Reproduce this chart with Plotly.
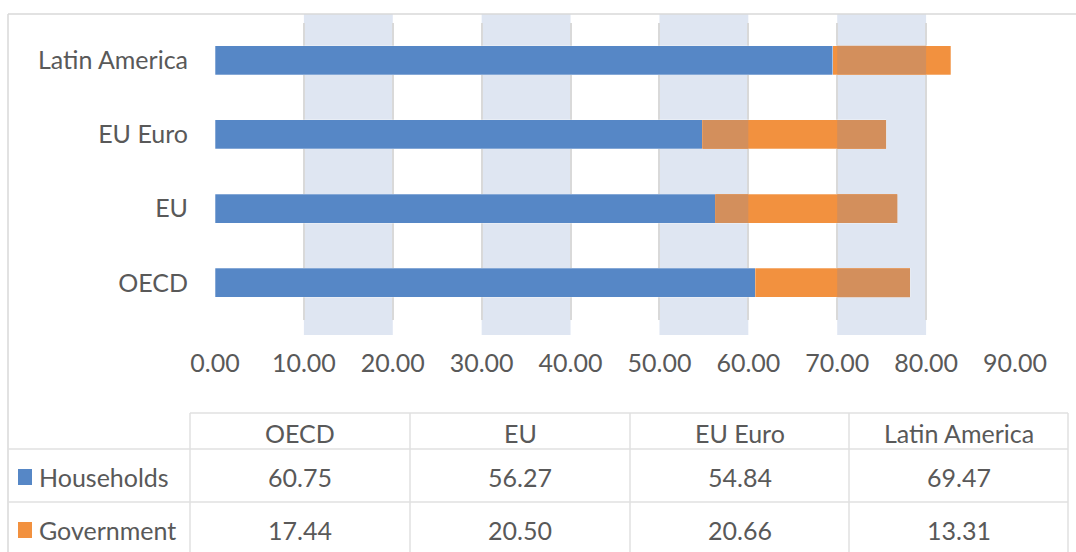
import plotly.graph_objects as go

# ---------------- data ----------------
categories = ["OECD", "EU", "EU Euro", "Latin America"]
households = [60.75, 56.27, 54.84, 69.47]
government = [17.44, 20.50, 20.66, 13.31]
series_names = ["Households", "Government"]
x_ticks = [0, 10, 20, 30, 40, 50, 60, 70, 80, 90]

# ---------------- style ----------------
W, H = 1076, 552
L_PX, R_PX, T_PX, B_PX = 215, 1015, 23, 320   # plot area in pixels
BLUE = "#5687C6"
ORANGE = "#F2913F"
OVERLAP = "#D38F5C"
BAND = "#DFE6F2"
GRID = "#D9D9D9"
TXT = "#595959"
FONT = "Lato, Carlito, Calibri, 'Liberation Sans', sans-serif"
FS = 25
BAR_W = 0.39


def px(x):
    return (x - L_PX) / (R_PX - L_PX)


def py(y):
    return (B_PX - y) / (B_PX - T_PX)


fig = go.Figure()
fig.add_trace(go.Bar(y=categories, x=households, orientation="h", name=series_names[0],
                     marker=dict(color=BLUE, line=dict(color="rgba(255,255,255,0.35)", width=0.8)),
                     width=BAR_W))
fig.add_trace(go.Bar(y=categories, x=government, orientation="h", name=series_names[1],
                     marker=dict(color=ORANGE, line=dict(color="rgba(255,255,255,0.35)", width=0.8)),
                     width=BAR_W))

shapes = []
# alternating bands (10-20, 30-40, ...)
bands = [(x_ticks[i], x_ticks[i + 1]) for i in range(1, len(x_ticks) - 1, 2)]
for b0, b1 in bands:
    shapes.append(dict(type="rect", xref="x", yref="paper", x0=b0, x1=b1,
                       y0=py(335), y1=py(14), fillcolor=BAND, line=dict(width=0), layer="below"))
# government segment where it lies on a band appears muted
for i, (h, g) in enumerate(zip(households, government)):
    for b0, b1 in bands:
        a0, a1 = max(h, b0), min(h + g, b1)
        if a1 > a0:
            shapes.append(dict(type="rect", xref="x", yref="y", x0=a0, x1=a1,
                               y0=i - BAR_W / 2, y1=i + BAR_W / 2,
                               fillcolor=OVERLAP, line=dict(width=0), layer="above"))

# outer chart border (left and top)
shapes.append(dict(type="line", xref="paper", yref="paper", x0=px(8), x1=px(8), y0=py(552), y1=py(14),
                   line=dict(color=GRID, width=1.5)))
shapes.append(dict(type="line", xref="paper", yref="paper", x0=px(8), x1=px(1076), y0=py(14), y1=py(14),
                   line=dict(color=GRID, width=1.5)))

# data table
col_edges = [190, 410, 630, 849, 1068]
row_header_top, row1_top, row2_top, table_bottom = 413, 449, 502, 560
tl = dict(color="#E0E0E0", width=1.5)
shapes.append(dict(type="line", xref="paper", yref="paper", x0=px(col_edges[0]), x1=px(col_edges[-1]),
                   y0=py(row_header_top), y1=py(row_header_top), line=tl))
for ry in (row1_top, row2_top):
    shapes.append(dict(type="line", xref="paper", yref="paper", x0=px(8), x1=px(col_edges[-1]),
                       y0=py(ry), y1=py(ry), line=tl))
for cx in col_edges:
    shapes.append(dict(type="line", xref="paper", yref="paper", x0=px(cx), x1=px(cx),
                       y0=py(row_header_top), y1=py(table_bottom), line=tl))

annotations = []
row_centers = [433, 477, 530]
for j, cat in enumerate(categories):
    cx = (col_edges[j] + col_edges[j + 1]) / 2
    annotations.append(dict(x=px(cx), y=py(row_centers[0]), xref="paper", yref="paper", text=cat,
                            showarrow=False, xanchor="center", yanchor="middle",
                            font=dict(family=FONT, size=FS, color=TXT)))
    for r, vals in enumerate((households, government)):
        annotations.append(dict(x=px(cx), y=py(row_centers[r + 1]), xref="paper", yref="paper",
                                text=f"{vals[j]:.2f}", showarrow=False, xanchor="center", yanchor="middle",
                                font=dict(family=FONT, size=FS, color=TXT)))
for r, (name, col) in enumerate(zip(series_names, (BLUE, ORANGE))):
    yc = row_centers[r + 1]
    shapes.append(dict(type="rect", xref="paper", yref="paper", x0=px(18), x1=px(32),
                       y0=py(yc - 8), y1=py(yc + 8), fillcolor=col, line=dict(width=0)))
    annotations.append(dict(x=px(37), y=py(yc), xref="paper", yref="paper", text=name,
                            showarrow=False, xanchor="left", yanchor="middle",
                            font=dict(family=FONT, size=FS, color=TXT)))

fig.update_layout(
    width=W, height=H,
    margin=dict(l=L_PX, r=W - R_PX, t=T_PX, b=H - B_PX, pad=0),
    barmode="stack",
    showlegend=False,
    paper_bgcolor="white", plot_bgcolor="rgba(0,0,0,0)",
    font=dict(family=FONT, size=FS, color=TXT),
    shapes=shapes,
    annotations=annotations,
)
fig.update_xaxes(range=[x_ticks[0], x_ticks[-1]], tickvals=x_ticks, tickformat=".2f",
                 showgrid=True, gridcolor=GRID, gridwidth=1.5, zeroline=False,
                 showline=False, ticks="", ticklabelstandoff=26,
                 tickfont=dict(family=FONT, size=FS, color=TXT), fixedrange=True)
fig.update_yaxes(categoryorder="array", categoryarray=categories, showgrid=False,
                 showline=False, ticks="", ticklabelstandoff=26,
                 tickfont=dict(family=FONT, size=FS, color=TXT), fixedrange=True)

fig.write_html("out.html", config={"displayModeBar": False},
               post_script="document.body.style.margin='0';document.body.style.overflow='hidden';")
